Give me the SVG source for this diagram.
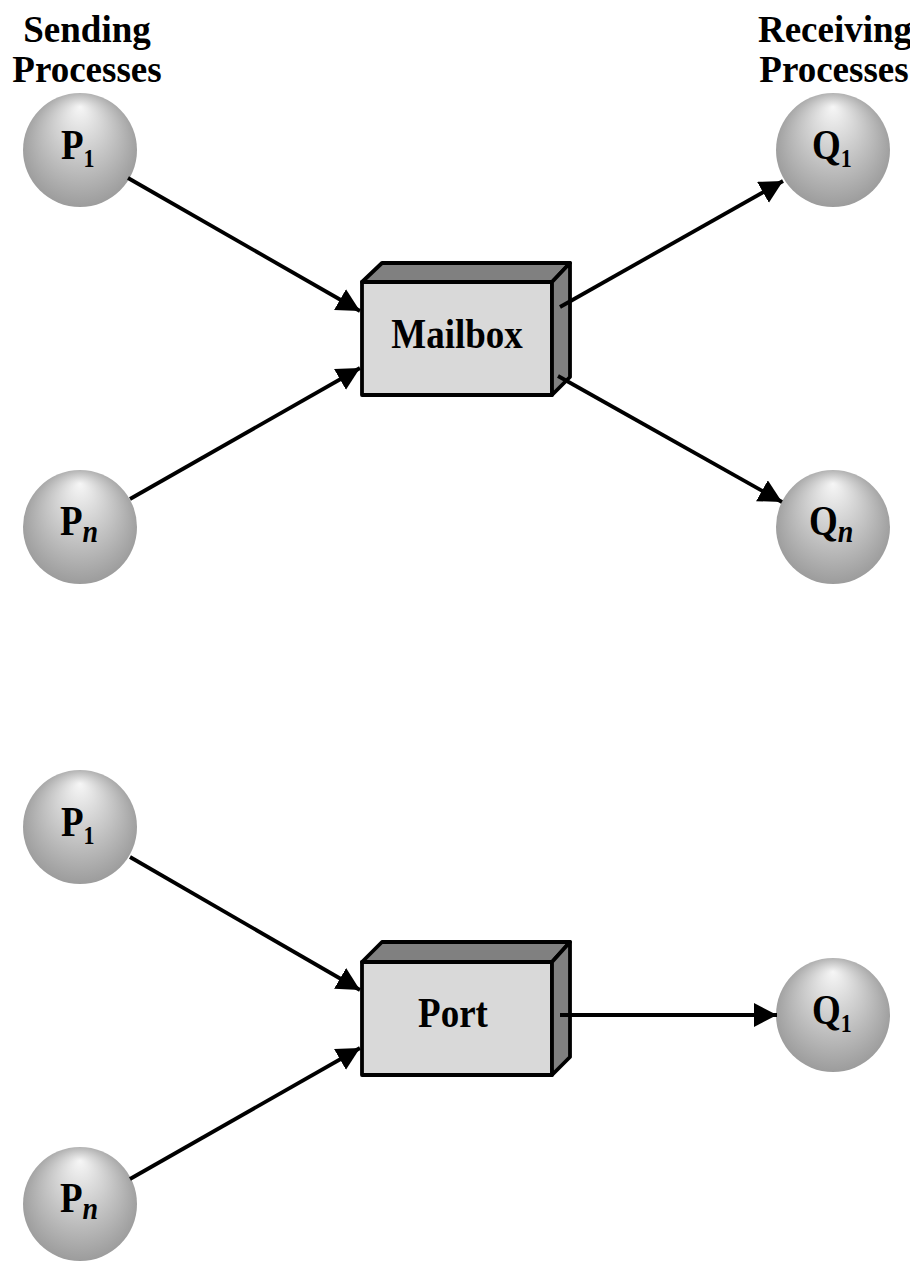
<svg xmlns="http://www.w3.org/2000/svg" width="910" height="1262" viewBox="0 0 910 1262">
<style>
.t{font-family:"Liberation Serif","Times New Roman",serif;font-weight:bold;fill:#000}
.h{font-size:37px;text-anchor:middle}
.lbl{font-size:37px}
.sub{font-size:22px}
.it{font-size:28px;font-style:italic}
.ball{fill:url(#g)}
.front{fill:#d9d9d9;stroke:#000;stroke-width:3.8;stroke-linejoin:round}
.dark{fill:#808080;stroke:#000;stroke-width:3.8;stroke-linejoin:round}
.c{stroke:#000;stroke-width:3.8;fill:none;marker-end:url(#a)}
</style>
<defs>
<radialGradient id="g" cx="0.5" cy="0.5" r="0.55" fx="0.5" fy="0.12">
<stop offset="0" stop-color="#f6f6f6"/>
<stop offset="1" stop-color="#979797"/>
</radialGradient>
<marker id="a" markerUnits="userSpaceOnUse" markerWidth="26" markerHeight="26" refX="23" refY="12" orient="auto">
<path d="M0,0 L23,12 L0,24 z" fill="#000"/>
</marker>
</defs>
<text class="t h" transform="translate(87,42) scale(1,1.04)">Sending</text>
<text class="t h" transform="translate(87,82) scale(1,1.04)">Processes</text>
<text class="t h" transform="translate(835,42) scale(1,1.04)">Receiving</text>
<text class="t h" transform="translate(834,82) scale(1,1.04)">Processes</text>

<g id="p1-top"><circle class="ball" cx="80" cy="150" r="57"/><text class="t lbl" transform="translate(61,159) scale(1,1.12)">P<tspan class="sub" dy="7">1</tspan></text></g>
<g id="pn-top"><circle class="ball" cx="80" cy="527" r="57"/><text class="t lbl" transform="translate(60,535) scale(1,1.12)">P<tspan class="it" dy="6">n</tspan></text></g>
<g id="q1-top"><circle class="ball" cx="833" cy="150" r="57"/><text class="t lbl" transform="translate(812,159) scale(1,1.12)">Q<tspan class="sub" dy="7">1</tspan></text></g>
<g id="qn-top"><circle class="ball" cx="833" cy="527" r="57"/><text class="t lbl" transform="translate(809,535) scale(1,1.12)">Q<tspan class="it" dy="6">n</tspan></text></g>

<g id="mailbox">
<rect class="front" x="362" y="282" width="190" height="113"/>
<polygon class="dark" points="362,282 382,263 570,263 552,282"/>
<polygon class="dark" points="552,282 570,263 570,377 552,395"/>
<text class="t lbl" transform="translate(457,348) scale(1,1.12)" text-anchor="middle">Mailbox</text>
</g>

<g id="p1-bot"><circle class="ball" cx="80" cy="827" r="57"/><text class="t lbl" transform="translate(61,836) scale(1,1.12)">P<tspan class="sub" dy="7">1</tspan></text></g>
<g id="pn-bot"><circle class="ball" cx="80" cy="1204" r="57"/><text class="t lbl" transform="translate(60,1212) scale(1,1.12)">P<tspan class="it" dy="6">n</tspan></text></g>
<g id="q1-bot"><circle class="ball" cx="833" cy="1015" r="57"/><text class="t lbl" transform="translate(812,1024) scale(1,1.12)">Q<tspan class="sub" dy="7">1</tspan></text></g>

<g id="port">
<rect class="front" x="362" y="962" width="190" height="113"/>
<polygon class="dark" points="362,962 382,942 570,942 552,962"/>
<polygon class="dark" points="552,962 570,942 570,1057 552,1075"/>
<text class="t lbl" transform="translate(453,1027) scale(1,1.12)" text-anchor="middle">Port</text>
</g>

<g id="connectors">
<line class="c" x1="128" y1="178" x2="360" y2="311"/>
<line class="c" x1="130" y1="499" x2="360" y2="368"/>
<line class="c" x1="560" y1="307" x2="783" y2="181"/>
<line class="c" x1="558" y1="376" x2="782" y2="502"/>
<line class="c" x1="130" y1="857" x2="360" y2="990"/>
<line class="c" x1="130" y1="1179" x2="360" y2="1048"/>
<line class="c" x1="560" y1="1015" x2="777" y2="1015"/>
</g>
</svg>
